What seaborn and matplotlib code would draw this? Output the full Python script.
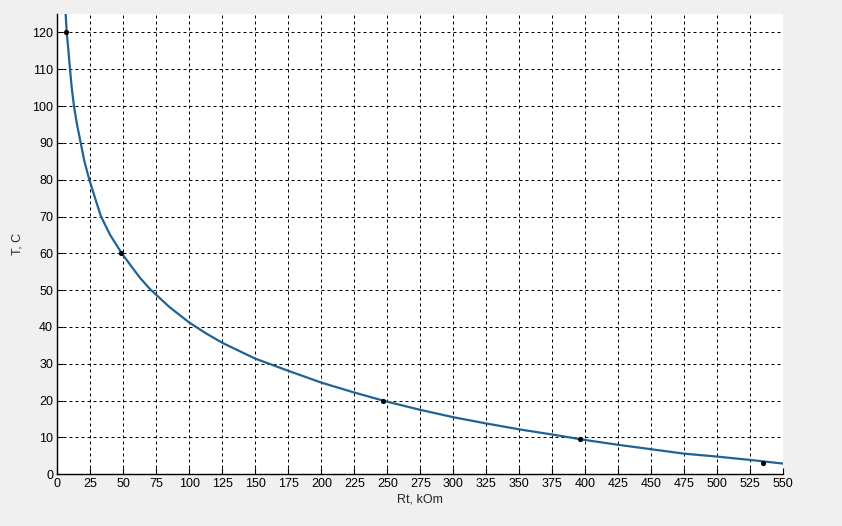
import numpy as np
import pandas as pd
import seaborn as sns
import matplotlib.pyplot as plt

# curve: resistance (kOm) vs temperature (C)
rt_curve = [6.3, 7.1, 8.4, 9.6, 10.9, 12.6, 14.9, 17.7, 20.5, 24.2, 28.6, 33.1,
            40, 48.8, 58.1, 63, 70.2, 85, 100, 112.5, 125,
            150, 175, 200, 225, 250, 275, 300, 325, 350, 375, 400, 425, 450,
            475, 500, 525, 550]
t_curve = [125, 120, 115, 110, 105, 100, 95, 90, 85, 80, 75, 70,
           65, 60, 55.5, 53.2, 50.3, 45.4, 41.2, 38.3, 35.7,
           31.4, 28.1, 24.9, 22.2, 19.7, 17.5, 15.5, 13.8, 12.2, 10.8, 9.3, 8.0, 6.8,
           5.6, 4.8, 3.9, 2.9]

# measured points (black dots)
rt_points = [6.6, 48.3, 247, 396, 534.5]
t_points = [120, 60, 20, 9.6, 3.2]

x_ticks = list(range(0, 551, 25))
y_ticks = list(range(0, 121, 10))

sns.set_style("white")
plt.rcParams["font.family"] = ["Liberation Sans", "DejaVu Sans"]

curve = pd.DataFrame({"Rt": rt_curve, "T": t_curve})
points = pd.DataFrame({"Rt": rt_points, "T": t_points})

fig = plt.figure(figsize=(8.42, 5.26), dpi=100, facecolor="#f0f0f0")
ax = fig.add_axes([0.0681, 0.0983, 0.8622, 0.8751])
ax.set_facecolor("white")

sns.lineplot(data=curve, x="Rt", y="T", sort=False, color="#1f6396",
             linewidth=1.6, ax=ax, zorder=3)
sns.scatterplot(data=points, x="Rt", y="T", color="black", s=14,
                edgecolor="black", linewidth=0, ax=ax, zorder=4)

ax.set_xlim(0, 550)
ax.set_ylim(0, 125)
ax.set_xticks(x_ticks)
ax.set_yticks(y_ticks)
ax.grid(True, color="black", linestyle=(0, (3, 3)), linewidth=0.72)
ax.set_axisbelow(True)

for s in ["top", "right"]:
    ax.spines[s].set_visible(False)
for s in ["left", "bottom"]:
    ax.spines[s].set_color("black")
    ax.spines[s].set_linewidth(1.0)

ax.tick_params(direction="in", length=4, width=0.8, colors="black",
               labelsize=9, pad=3, bottom=True, left=True)
ax.set_xlabel("Rt, kOm", fontsize=9, labelpad=2)
ax.set_ylabel("T, C", fontsize=9, labelpad=6)

fig.savefig("out.png", dpi=100, facecolor=fig.get_facecolor())
